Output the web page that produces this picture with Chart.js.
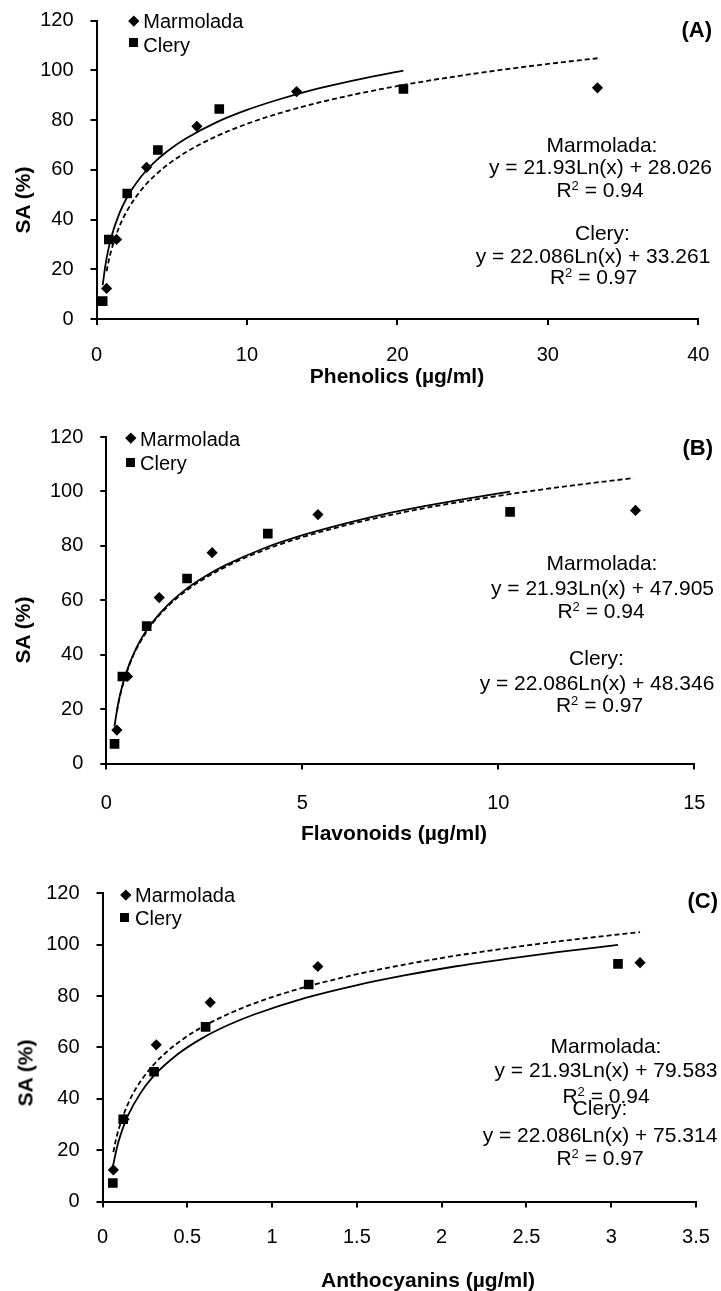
<!DOCTYPE html>
<html>
<head>
<meta charset="utf-8">
<script src="https://cdn.jsdelivr.net/npm/chart.js@4.4.1/dist/chart.umd.min.js"></script>
<style>
  body { margin: 0; background: #fff; width: 721px; height: 1291px; position: relative; overflow: hidden;
         font-family: "Liberation Sans", Arial, sans-serif; color: #000; }
  .panel { position: absolute; left: 0; }
  .txt { position: absolute; white-space: nowrap; line-height: 1; }
  .txt sup { font-size: 0.62em; line-height: 0; vertical-align: 0.55em; }
  .mk { position: absolute; background: #000; }
</style>
</head>
<body>
<canvas id="chartA" class="panel" width="721" height="400" style="top:0px"></canvas>
<canvas id="chartB" class="panel" width="721" height="440" style="top:410px"></canvas>
<canvas id="chartC" class="panel" width="721" height="431" style="top:860px"></canvas>
<script>
// SA (%) measured for the six dilutions of each extract
const marmoladaSA = [12.3, 32, 61, 77.5, 91.5, 93];
const clerySA = [7.2, 32, 50.5, 68, 84.5, 92.5];

// concentrations (µg/ml) of the same dilutions
const phenolicsMarmolada = [0.67, 1.33, 3.33, 6.67, 13.3, 33.3];
const phenolicsClery = [0.41, 0.82, 2.04, 4.08, 8.16, 20.4];
const flavonoidsMarmolada = [0.27, 0.54, 1.35, 2.7, 5.4, 13.5];
const flavonoidsClery = [0.21, 0.41, 1.03, 2.06, 4.12, 10.3];
const anthocyaninsMarmolada = [0.064, 0.127, 0.317, 0.635, 1.27, 3.17];
const anthocyaninsClery = [0.061, 0.122, 0.304, 0.608, 1.216, 3.04];

// logarithmic trend lines
const marmoladaTrendSA = [19.2, 23.1, 28.0, 36.9, 43.2, 52.1, 58.4, 63.3, 67.3, 73.6, 78.5, 82.5, 87.4, 91.4, 94.8, 97.7, 100.3, 102.6, 104.9];
const cleryTrendSA = [13.6, 22.0, 28.3, 33.3, 42.2, 48.6, 57.5, 63.9, 68.8, 72.8, 79.2, 84.1, 88.1, 91.6, 94.5, 97.1, 99.9];
const phenolicsMarmoladaTrend = [0.67, 0.8, 1, 1.5, 2, 3, 4, 5, 6, 8, 10, 12, 15, 18, 21, 24, 27, 30, 33.3];
const phenolicsCleryTrend = [0.41, 0.6, 0.8, 1, 1.5, 2, 3, 4, 5, 6, 8, 10, 12, 14, 16, 18, 20.4];
const flavonoidsMarmoladaTrend = [0.271, 0.323, 0.404, 0.606, 0.808, 1.212, 1.616, 2.02, 2.424, 3.232, 4.04, 4.848, 6.06, 7.27, 8.48, 9.7, 10.91, 12.12, 13.45];
const flavonoidsCleryTrend = [0.207, 0.303, 0.404, 0.505, 0.758, 1.01, 1.515, 2.02, 2.525, 3.03, 4.04, 5.05, 6.06, 7.07, 8.08, 9.09, 10.3];
const anthocyaninsMarmoladaTrend = [0.064, 0.076, 0.095, 0.143, 0.19, 0.286, 0.381, 0.476, 0.571, 0.762, 0.952, 1.143, 1.429, 1.714, 2.0, 2.286, 2.571, 2.857, 3.17];
const anthocyaninsCleryTrend = [0.061, 0.089, 0.119, 0.149, 0.224, 0.298, 0.447, 0.596, 0.745, 0.894, 1.192, 1.49, 1.788, 2.086, 2.384, 2.683, 3.04];

// axis ticks
const saTicks = { min: 0, max: 120, step: 20 };
const phenolicsTicks = { min: 0, max: 40, step: 10 };
const flavonoidsTicks = { min: 0, max: 15, step: 5 };
const anthocyaninsTicks = { min: 0, max: 3.5, step: 0.5 };

Chart.defaults.font.family = '"Liberation Sans", Arial, sans-serif';
Chart.defaults.color = '#000';

function toPoints(xs, ys) {
  return xs.map((x, i) => ({ x: x, y: ys[i] }));
}

function makeChart(id, p) {
  return new Chart(document.getElementById(id), {
    type: 'scatter',
    data: {
      datasets: [
        { label: 'Marmolada', data: toPoints(p.marmX, marmoladaSA), pointStyle: 'rectRot',
          pointRadius: 5.6, pointHoverRadius: 5.6, backgroundColor: '#000', borderWidth: 0 },
        { label: 'Clery', data: toPoints(p.cleryX, clerySA), pointStyle: 'rect',
          pointRadius: 6.8, pointHoverRadius: 6.8, backgroundColor: '#000', borderWidth: 0 },
        { label: 'Clery trend', data: toPoints(p.cleryTrendX, cleryTrendSA), showLine: true,
          pointRadius: 0, borderColor: '#000', borderWidth: 1.8, cubicInterpolationMode: 'monotone' },
        { label: 'Marmolada trend', data: toPoints(p.marmTrendX, marmoladaTrendSA), showLine: true,
          pointRadius: 0, borderColor: '#000', borderWidth: 1.8, borderDash: [5, 3], cubicInterpolationMode: 'monotone' }
      ]
    },
    options: {
      responsive: false,
      animation: false,
      devicePixelRatio: 1,
      events: [],
      layout: { padding: p.pad },
      plugins: { legend: { display: false }, tooltip: { enabled: false } },
      scales: {
        x: {
          type: 'linear', min: p.xTicks.min, max: p.xTicks.max,
          ticks: { stepSize: p.xTicks.step, maxRotation: 0, padding: p.xPad, font: { size: 20 },
                   callback: v => String(+v.toFixed(2)) },
          grid: { drawOnChartArea: false, color: '#000', lineWidth: 2, tickLength: 6 },
          border: { color: '#000', width: 2 },
          afterFit(s) { s.height = 60; s.paddingLeft = 0; s.paddingRight = 0; }
        },
        y: {
          min: saTicks.min, max: saTicks.max,
          ticks: { stepSize: saTicks.step, padding: 17, font: { size: 20 } },
          grid: { drawOnChartArea: false, color: '#000', lineWidth: 2, tickLength: 6 },
          border: { color: '#000', width: 2 },
          afterFit(s) { s.width = 80; s.paddingTop = 0; s.paddingBottom = 0; }
        }
      }
    }
  });
}

makeChart('chartA', {
  marmX: phenolicsMarmolada, cleryX: phenolicsClery,
  marmTrendX: phenolicsMarmoladaTrend, cleryTrendX: phenolicsCleryTrend,
  xTicks: phenolicsTicks, xPad: 18,
  pad: { top: 20.7, left: 16.5, right: 22.7, bottom: 21 }
});
makeChart('chartB', {
  marmX: flavonoidsMarmolada, cleryX: flavonoidsClery,
  marmTrendX: flavonoidsMarmoladaTrend, cleryTrendX: flavonoidsCleryTrend,
  xTicks: flavonoidsTicks, xPad: 22,
  pad: { top: 27, left: 26.3, right: 26.7, bottom: 26.5 }
});
makeChart('chartC', {
  marmX: anthocyaninsMarmolada, cleryX: anthocyaninsClery,
  marmTrendX: anthocyaninsMarmoladaTrend, cleryTrendX: anthocyaninsCleryTrend,
  xTicks: anthocyaninsTicks, xPad: 18,
  pad: { top: 33.3, left: 22.5, right: 25, bottom: 29.5 }
});

// text placed by its baseline; align: 'left' | 'center' | 'right'
function addText(html, x, baseline, size, bold, align) {
  const d = document.createElement('div');
  d.className = 'txt';
  d.innerHTML = html;
  d.style.fontSize = size + 'px';
  d.style.fontWeight = bold ? 'bold' : 'normal';
  d.style.left = x + 'px';
  d.style.top = (baseline - 0.8465 * size) + 'px';
  if (align === 'center') d.style.transform = 'translateX(-50%)';
  if (align === 'right') d.style.transform = 'translateX(-100%)';
  document.body.appendChild(d);
}

function addYTitle(cx, cy) {
  const d = document.createElement('div');
  d.className = 'txt';
  d.textContent = 'SA (%)';
  d.style.fontSize = '21px';
  d.style.fontWeight = 'bold';
  d.style.left = cx + 'px';
  d.style.top = cy + 'px';
  d.style.transform = 'translate(-50%, -50%) rotate(-90deg)';
  document.body.appendChild(d);
}

function addMarker(kind, cx, cy) {
  const d = document.createElement('div');
  d.className = 'mk';
  const s = kind === 'diamond' ? 7.6 : 9;
  d.style.width = s + 'px';
  d.style.height = s + 'px';
  d.style.left = (cx - s / 2) + 'px';
  d.style.top = (cy - s / 2) + 'px';
  if (kind === 'diamond') d.style.transform = 'rotate(45deg)';
  document.body.appendChild(d);
}

function addLegend(dx, dy, sx, sy, tx, b1, b2) {
  addMarker('diamond', dx, dy);
  addMarker('square', sx, sy);
  addText('Marmolada', tx, b1, 20, false, 'left');
  addText('Clery', tx, b2, 20, false, 'left');
}

// panel (A)
addLegend(133.3, 21, 133.7, 42.8, 143.3, 28.3, 51.7);
addText('(A)', 712, 38, 22, true, 'right');
addText('Marmolada:', 602, 152, 21, false, 'center');
addText('y = 21.93Ln(x) + 28.026', 600.5, 173.5, 21, false, 'center');
addText('R<sup>2</sup> = 0.94', 600, 197, 21, false, 'center');
addText('Clery:', 602.5, 240, 21, false, 'center');
addText('y = 22.086Ln(x) + 33.261', 593, 263, 21, false, 'center');
addText('R<sup>2</sup> = 0.97', 593.5, 284, 21, false, 'center');
addText('Phenolics (µg/ml)', 397, 383, 21, true, 'center');
addYTitle(22, 200);

// panel (B)
addLegend(130.5, 438, 130.5, 462, 140, 446, 470);
addText('(B)', 713, 456, 22, true, 'right');
addText('Marmolada:', 602, 570, 21, false, 'center');
addText('y = 21.93Ln(x) + 47.905', 602.5, 595, 21, false, 'center');
addText('R<sup>2</sup> = 0.94', 601, 618, 21, false, 'center');
addText('Clery:', 596.5, 665, 21, false, 'center');
addText('y = 22.086Ln(x) + 48.346', 597, 690, 21, false, 'center');
addText('R<sup>2</sup> = 0.97', 599.5, 712, 21, false, 'center');
addText('Flavonoids (µg/ml)', 394, 840, 21, true, 'center');
addYTitle(22, 630);

// panel (C)
addLegend(125.3, 894.5, 124.3, 917, 135, 901.7, 925);
addText('(C)', 718, 909, 22, true, 'right');
addText('Marmolada:', 606, 1053, 21, false, 'center');
addText('y = 21.93Ln(x) + 79.583', 606, 1076.5, 21, false, 'center');
addText('R<sup>2</sup> = 0.94', 606, 1102.5, 21, false, 'center');
addText('Clery:', 600, 1115, 21, false, 'center');
addText('y = 22.086Ln(x) + 75.314', 600, 1141.5, 21, false, 'center');
addText('R<sup>2</sup> = 0.97', 600, 1165, 21, false, 'center');
addText('Anthocyanins (µg/ml)', 428, 1287, 21, true, 'center');
addYTitle(25, 1073);
</script>
</body>
</html>
